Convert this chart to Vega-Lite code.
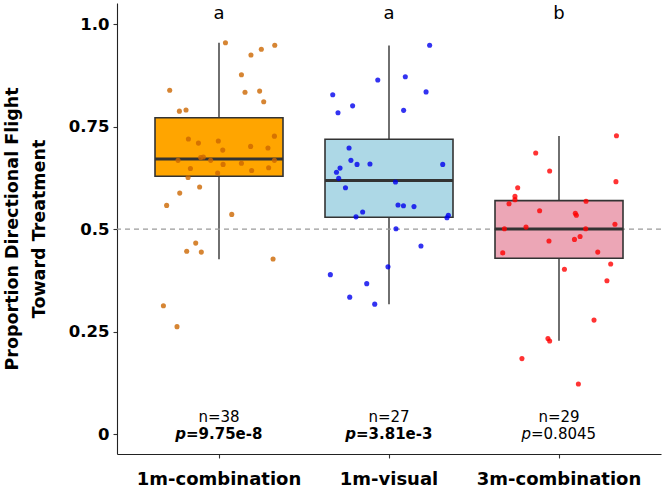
{
  "$schema": "https://vega.github.io/schema/vega-lite/v6.json",
  "width": 544,
  "height": 451,
  "autosize": {"type": "none"},
  "padding": {"left": 117, "top": 3, "right": 3, "bottom": 41},
  "background": "white",
  "config": {
    "view": {"stroke": null},
    "font": "DejaVu Sans",
    "axis": {
      "domainColor": "#222222",
      "domainWidth": 1.1,
      "tickColor": "#333333",
      "tickWidth": 1.1,
      "tickSize": 4,
      "grid": false,
      "labelColor": "#000000",
      "labelFont": "DejaVu Sans",
      "labelFontWeight": "bold",
      "titleColor": "#000000",
      "titleFont": "DejaVu Sans",
      "titleFontWeight": "bold"
    },
    "axisX": {"labelAngle": 0, "labelFontSize": 18, "labelPadding": 12, "labelBaseline": "top"},
    "axisY": {"titleFontSize": 17.5, "titleLineHeight": 27, "titlePadding": 20, "labelFontSize": 16.5, "labelPadding": 4}
  },
  "datasets": {
    "flights": [
      {"treatment": "1m-combination", "proportion": 0.955, "jitter": 0.038},
      {"treatment": "1m-combination", "proportion": 0.925, "jitter": 0.188},
      {"treatment": "1m-combination", "proportion": 0.939, "jitter": 0.249},
      {"treatment": "1m-combination", "proportion": 0.949, "jitter": 0.328},
      {"treatment": "1m-combination", "proportion": 0.877, "jitter": 0.132},
      {"treatment": "1m-combination", "proportion": 0.839, "jitter": -0.290},
      {"treatment": "1m-combination", "proportion": 0.834, "jitter": 0.153},
      {"treatment": "1m-combination", "proportion": 0.837, "jitter": 0.239},
      {"treatment": "1m-combination", "proportion": 0.811, "jitter": 0.263},
      {"treatment": "1m-combination", "proportion": 0.788, "jitter": -0.233},
      {"treatment": "1m-combination", "proportion": 0.791, "jitter": -0.194},
      {"treatment": "1m-combination", "proportion": 0.720, "jitter": -0.180},
      {"treatment": "1m-combination", "proportion": 0.710, "jitter": -0.121},
      {"treatment": "1m-combination", "proportion": 0.715, "jitter": -0.004},
      {"treatment": "1m-combination", "proportion": 0.693, "jitter": 0.022},
      {"treatment": "1m-combination", "proportion": 0.702, "jitter": 0.186},
      {"treatment": "1m-combination", "proportion": 0.698, "jitter": 0.288},
      {"treatment": "1m-combination", "proportion": 0.727, "jitter": 0.326},
      {"treatment": "1m-combination", "proportion": 0.668, "jitter": -0.241},
      {"treatment": "1m-combination", "proportion": 0.675, "jitter": -0.108},
      {"treatment": "1m-combination", "proportion": 0.676, "jitter": -0.092},
      {"treatment": "1m-combination", "proportion": 0.668, "jitter": -0.049},
      {"treatment": "1m-combination", "proportion": 0.668, "jitter": 0.326},
      {"treatment": "1m-combination", "proportion": 0.648, "jitter": -0.168},
      {"treatment": "1m-combination", "proportion": 0.658, "jitter": 0.024},
      {"treatment": "1m-combination", "proportion": 0.661, "jitter": 0.132},
      {"treatment": "1m-combination", "proportion": 0.643, "jitter": 0.192},
      {"treatment": "1m-combination", "proportion": 0.650, "jitter": 0.292},
      {"treatment": "1m-combination", "proportion": 0.626, "jitter": -0.182},
      {"treatment": "1m-combination", "proportion": 0.637, "jitter": -0.008},
      {"treatment": "1m-combination", "proportion": 0.603, "jitter": -0.114},
      {"treatment": "1m-combination", "proportion": 0.588, "jitter": -0.231},
      {"treatment": "1m-combination", "proportion": 0.558, "jitter": -0.308},
      {"treatment": "1m-combination", "proportion": 0.536, "jitter": 0.075},
      {"treatment": "1m-combination", "proportion": 0.466, "jitter": -0.137},
      {"treatment": "1m-combination", "proportion": 0.446, "jitter": -0.190},
      {"treatment": "1m-combination", "proportion": 0.444, "jitter": -0.104},
      {"treatment": "1m-combination", "proportion": 0.427, "jitter": 0.318},
      {"treatment": "1m-combination", "proportion": 0.313, "jitter": -0.327},
      {"treatment": "1m-combination", "proportion": 0.262, "jitter": -0.247},
      {"treatment": "1m-visual", "proportion": 0.949, "jitter": 0.239},
      {"treatment": "1m-visual", "proportion": 0.864, "jitter": -0.066},
      {"treatment": "1m-visual", "proportion": 0.872, "jitter": 0.096},
      {"treatment": "1m-visual", "proportion": 0.828, "jitter": -0.331},
      {"treatment": "1m-visual", "proportion": 0.835, "jitter": 0.218},
      {"treatment": "1m-visual", "proportion": 0.801, "jitter": -0.214},
      {"treatment": "1m-visual", "proportion": 0.784, "jitter": -0.300},
      {"treatment": "1m-visual", "proportion": 0.790, "jitter": 0.086},
      {"treatment": "1m-visual", "proportion": 0.698, "jitter": -0.235},
      {"treatment": "1m-visual", "proportion": 0.668, "jitter": -0.224},
      {"treatment": "1m-visual", "proportion": 0.658, "jitter": -0.188},
      {"treatment": "1m-visual", "proportion": 0.659, "jitter": -0.112},
      {"treatment": "1m-visual", "proportion": 0.658, "jitter": 0.316},
      {"treatment": "1m-visual", "proportion": 0.649, "jitter": -0.288},
      {"treatment": "1m-visual", "proportion": 0.639, "jitter": -0.309},
      {"treatment": "1m-visual", "proportion": 0.624, "jitter": -0.296},
      {"treatment": "1m-visual", "proportion": 0.615, "jitter": 0.038},
      {"treatment": "1m-visual", "proportion": 0.601, "jitter": -0.256},
      {"treatment": "1m-visual", "proportion": 0.559, "jitter": 0.053},
      {"treatment": "1m-visual", "proportion": 0.557, "jitter": 0.085},
      {"treatment": "1m-visual", "proportion": 0.555, "jitter": 0.147},
      {"treatment": "1m-visual", "proportion": 0.542, "jitter": -0.155},
      {"treatment": "1m-visual", "proportion": 0.530, "jitter": -0.194},
      {"treatment": "1m-visual", "proportion": 0.534, "jitter": 0.349},
      {"treatment": "1m-visual", "proportion": 0.528, "jitter": 0.341},
      {"treatment": "1m-visual", "proportion": 0.501, "jitter": 0.041},
      {"treatment": "1m-visual", "proportion": 0.459, "jitter": 0.188},
      {"treatment": "1m-visual", "proportion": 0.408, "jitter": -0.006},
      {"treatment": "1m-visual", "proportion": 0.389, "jitter": -0.345},
      {"treatment": "1m-visual", "proportion": 0.367, "jitter": -0.131},
      {"treatment": "1m-visual", "proportion": 0.334, "jitter": -0.231},
      {"treatment": "1m-visual", "proportion": 0.317, "jitter": -0.084},
      {"treatment": "3m-combination", "proportion": 0.728, "jitter": 0.338},
      {"treatment": "3m-combination", "proportion": 0.686, "jitter": -0.137},
      {"treatment": "3m-combination", "proportion": 0.642, "jitter": -0.055},
      {"treatment": "3m-combination", "proportion": 0.616, "jitter": 0.335},
      {"treatment": "3m-combination", "proportion": 0.601, "jitter": -0.243},
      {"treatment": "3m-combination", "proportion": 0.580, "jitter": -0.259},
      {"treatment": "3m-combination", "proportion": 0.572, "jitter": -0.259},
      {"treatment": "3m-combination", "proportion": 0.562, "jitter": -0.294},
      {"treatment": "3m-combination", "proportion": 0.568, "jitter": 0.159},
      {"treatment": "3m-combination", "proportion": 0.545, "jitter": -0.114},
      {"treatment": "3m-combination", "proportion": 0.539, "jitter": 0.096},
      {"treatment": "3m-combination", "proportion": 0.534, "jitter": 0.102},
      {"treatment": "3m-combination", "proportion": 0.501, "jitter": -0.321},
      {"treatment": "3m-combination", "proportion": 0.505, "jitter": -0.194},
      {"treatment": "3m-combination", "proportion": 0.501, "jitter": 0.157},
      {"treatment": "3m-combination", "proportion": 0.512, "jitter": 0.329},
      {"treatment": "3m-combination", "proportion": 0.471, "jitter": -0.059},
      {"treatment": "3m-combination", "proportion": 0.475, "jitter": 0.091},
      {"treatment": "3m-combination", "proportion": 0.482, "jitter": 0.124},
      {"treatment": "3m-combination", "proportion": 0.442, "jitter": -0.331},
      {"treatment": "3m-combination", "proportion": 0.444, "jitter": 0.228},
      {"treatment": "3m-combination", "proportion": 0.415, "jitter": 0.304},
      {"treatment": "3m-combination", "proportion": 0.402, "jitter": 0.032},
      {"treatment": "3m-combination", "proportion": 0.374, "jitter": 0.282},
      {"treatment": "3m-combination", "proportion": 0.278, "jitter": 0.206},
      {"treatment": "3m-combination", "proportion": 0.233, "jitter": -0.065},
      {"treatment": "3m-combination", "proportion": 0.227, "jitter": -0.055},
      {"treatment": "3m-combination", "proportion": 0.184, "jitter": -0.218},
      {"treatment": "3m-combination", "proportion": 0.122, "jitter": 0.114}
    ],
    "boxes": [
      {"treatment": "1m-combination", "lower": 0.4265, "q1": 0.629, "median": 0.671, "q3": 0.772, "upper": 0.955},
      {"treatment": "1m-visual", "lower": 0.3166, "q1": 0.529, "median": 0.619, "q3": 0.7195, "upper": 0.948},
      {"treatment": "3m-combination", "lower": 0.2278, "q1": 0.4289, "median": 0.5005, "q3": 0.5696, "upper": 0.7275}
    ],
    "annotations": [
      {"treatment": "1m-combination", "letter": "a", "n": "n=38", "pvalue": "=9.75e-8", "significant": true},
      {"treatment": "1m-visual", "letter": "a", "n": "n=27", "pvalue": "=3.81e-3", "significant": true},
      {"treatment": "3m-combination", "letter": "b", "n": "n=29", "pvalue": "=0.8045", "significant": false}
    ]
  },
  "layer": [
    {
      "data": {"name": "boxes"},
      "mark": {"type": "rule", "color": "#333333", "strokeWidth": 1.4},
      "encoding": {
        "x": {
          "field": "treatment", "type": "nominal", "sort": null, "title": null,
          "scale": {"domain": ["1m-combination", "1m-visual", "3m-combination"], "paddingInner": 0, "paddingOuter": 0.1}
        },
        "y": {
          "field": "lower", "type": "quantitative",
          "title": ["Proportion Directional Flight", "Toward Treatment"],
          "scale": {"domain": [-0.0488, 1.052], "nice": false, "zero": false},
          "axis": {
            "values": [0, 0.25, 0.5, 0.75, 1],
            "labelExpr": "datum.value == 1 ? '1.0' : toString(datum.value)"
          }
        },
        "y2": {"field": "upper"}
      }
    },
    {
      "data": {"values": [{"reference": 0.5}]},
      "mark": {"type": "rule", "color": "#9a9a9a", "strokeWidth": 1.1, "strokeDash": [5, 4]},
      "encoding": {
        "y": {"field": "reference", "type": "quantitative", "title": ["Proportion Directional Flight", "Toward Treatment"]}
      }
    },
    {
      "data": {"name": "boxes"},
      "mark": {"type": "bar", "width": 128, "stroke": "#333333", "strokeWidth": 1.6, "opacity": 1},
      "encoding": {
        "x": {"field": "treatment", "type": "nominal", "sort": null, "title": null},
        "y": {"field": "q1", "type": "quantitative", "title": ["Proportion Directional Flight", "Toward Treatment"]},
        "y2": {"field": "q3"},
        "fill": {
          "field": "treatment", "type": "nominal",
          "scale": {"domain": ["1m-combination", "1m-visual", "3m-combination"], "range": ["#ffa500", "#add8e6", "#eca6b6"]},
          "legend": null
        }
      }
    },
    {
      "data": {"name": "boxes"},
      "mark": {"type": "tick", "size": 128, "thickness": 3, "color": "#333333", "opacity": 1},
      "encoding": {
        "x": {"field": "treatment", "type": "nominal", "sort": null, "title": null},
        "y": {"field": "median", "type": "quantitative", "title": ["Proportion Directional Flight", "Toward Treatment"]}
      }
    },
    {
      "data": {"name": "flights"},
      "mark": {"type": "circle", "size": 26, "opacity": 0.8},
      "encoding": {
        "x": {"field": "treatment", "type": "nominal", "sort": null, "title": null},
        "xOffset": {"field": "jitter", "type": "quantitative", "scale": {"domain": [-0.5, 0.5]}},
        "y": {"field": "proportion", "type": "quantitative", "title": ["Proportion Directional Flight", "Toward Treatment"]},
        "color": {
          "field": "treatment", "type": "nominal",
          "scale": {"domain": ["1m-combination", "1m-visual", "3m-combination"], "range": ["#cc6600", "#0000ee", "#ff0000"]},
          "legend": null
        }
      }
    },
    {
      "data": {"name": "annotations"},
      "mark": {"type": "text", "fontSize": 18, "font": "DejaVu Sans", "color": "#000000", "baseline": "alphabetic", "align": "center"},
      "encoding": {
        "x": {"field": "treatment", "type": "nominal", "sort": null, "title": null},
        "y": {"datum": 1.013, "type": "quantitative", "title": ["Proportion Directional Flight", "Toward Treatment"]},
        "text": {"field": "letter"}
      }
    },
    {
      "data": {"name": "annotations"},
      "mark": {"type": "text", "fontSize": 15, "font": "DejaVu Sans", "color": "#000000", "baseline": "alphabetic", "align": "center"},
      "encoding": {
        "x": {"field": "treatment", "type": "nominal", "sort": null, "title": null},
        "y": {"datum": 0.030, "type": "quantitative", "title": ["Proportion Directional Flight", "Toward Treatment"]},
        "text": {"field": "n"}
      }
    },
    {
      "data": {"name": "annotations"},
      "transform": [{"filter": "datum.significant"}],
      "mark": {"type": "text", "text": "p", "fontSize": 15, "font": "DejaVu Sans", "fontWeight": "bold", "fontStyle": "italic", "color": "#000000", "baseline": "alphabetic", "align": "right", "dx": -33},
      "encoding": {
        "x": {"field": "treatment", "type": "nominal", "sort": null, "title": null},
        "y": {"datum": -0.011, "type": "quantitative", "title": ["Proportion Directional Flight", "Toward Treatment"]}
      }
    },
    {
      "data": {"name": "annotations"},
      "transform": [{"filter": "datum.significant"}],
      "mark": {"type": "text", "fontSize": 15, "font": "DejaVu Sans", "fontWeight": "bold", "color": "#000000", "baseline": "alphabetic", "align": "left", "dx": -33},
      "encoding": {
        "x": {"field": "treatment", "type": "nominal", "sort": null, "title": null},
        "y": {"datum": -0.011, "type": "quantitative", "title": ["Proportion Directional Flight", "Toward Treatment"]},
        "text": {"field": "pvalue"}
      }
    },
    {
      "data": {"name": "annotations"},
      "transform": [{"filter": "!datum.significant"}],
      "mark": {"type": "text", "text": "p", "fontSize": 15, "font": "DejaVu Sans", "fontStyle": "italic", "color": "#000000", "baseline": "alphabetic", "align": "right", "dx": -28},
      "encoding": {
        "x": {"field": "treatment", "type": "nominal", "sort": null, "title": null},
        "y": {"datum": -0.011, "type": "quantitative", "title": ["Proportion Directional Flight", "Toward Treatment"]}
      }
    },
    {
      "data": {"name": "annotations"},
      "transform": [{"filter": "!datum.significant"}],
      "mark": {"type": "text", "fontSize": 15, "font": "DejaVu Sans", "color": "#000000", "baseline": "alphabetic", "align": "left", "dx": -28},
      "encoding": {
        "x": {"field": "treatment", "type": "nominal", "sort": null, "title": null},
        "y": {"datum": -0.011, "type": "quantitative", "title": ["Proportion Directional Flight", "Toward Treatment"]},
        "text": {"field": "pvalue"}
      }
    }
  ]
}
